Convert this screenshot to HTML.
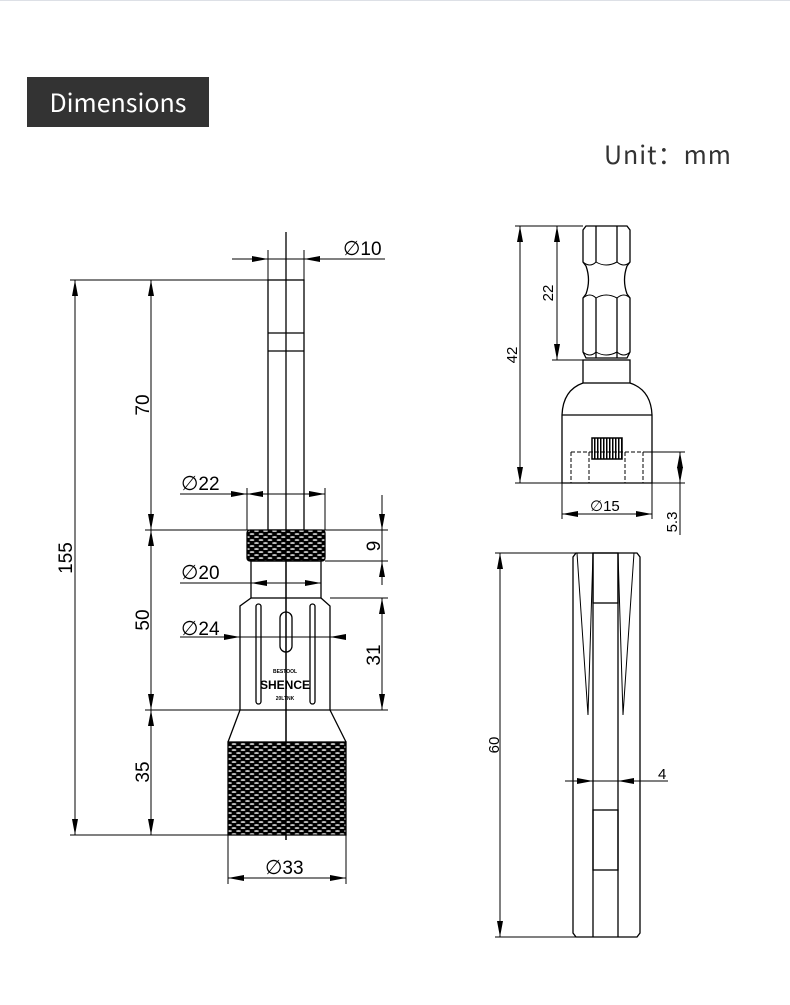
<!DOCTYPE html>
<html><head><meta charset="utf-8"><style>
html,body{margin:0;padding:0;background:#fff;}
body{width:790px;height:1005px;position:relative;overflow:hidden;font-family:"Liberation Sans","Noto Sans CJK SC",sans-serif;}
.hdr{position:absolute;left:27px;top:77px;width:182px;height:50px;background:#333;color:#fff;font-size:25px;line-height:50px;text-align:center;font-family:"Noto Sans CJK SC","Liberation Sans",sans-serif;}
.unit{position:absolute;left:604px;top:136px;font-size:25px;color:#333;font-family:"Noto Sans CJK SC","Liberation Sans",sans-serif;letter-spacing:1px;}
.top{position:absolute;left:0;top:0;width:790px;height:1px;background:#dde0e6;}
svg{position:absolute;left:0;top:0;}
</style></head><body>
<div class="top"></div>
<div class="hdr">Dimensions</div>
<div class="unit">Unit：mm</div>
<svg width="790" height="1005" viewBox="0 0 790 1005">
<defs>
<pattern id="kn" width="9" height="6" patternUnits="userSpaceOnUse">
<rect width="9" height="6" fill="#000"/>
<ellipse cx="4.5" cy="3" rx="2.4" ry="0.8" fill="#fff"/>
<ellipse cx="0" cy="0" rx="2.4" ry="0.8" fill="#fff"/>
<ellipse cx="9" cy="0" rx="2.4" ry="0.8" fill="#fff"/>
<ellipse cx="0" cy="6" rx="2.4" ry="0.8" fill="#fff"/>
<ellipse cx="9" cy="6" rx="2.4" ry="0.8" fill="#fff"/>
</pattern>
<pattern id="st" width="3" height="3" patternUnits="userSpaceOnUse">
<rect width="3" height="3" fill="#fff"/><rect width="1.5" height="3" fill="#000"/>
</pattern>
<marker id="a" viewBox="0 0 16 6" refX="16" refY="3" markerWidth="16" markerHeight="6" markerUnits="userSpaceOnUse" orient="auto-start-reverse"><path d="M0,0L16,3L0,6z" fill="#000"/></marker>
</defs>
<g stroke="#000" stroke-width="1.3" fill="none">
<line x1="286" y1="232" x2="286" y2="840"/>
<rect x="268" y="280" width="36" height="250"/>
<line x1="268" y1="333" x2="304" y2="333"/><line x1="268" y1="351" x2="304" y2="351"/>
<rect x="247" y="530" width="78" height="31" rx="3" fill="url(#kn)"/>
<rect x="251" y="561" width="70" height="37"/>
<path d="M251,598 L240,606 L240,710 L330,710 L330,606 L321,598"/>
<rect x="256" y="604" width="5" height="100" rx="2.5"/>
<rect x="310" y="604" width="5" height="100" rx="2.5"/>
<rect x="280" y="612" width="12" height="40" rx="6"/>
<path d="M240,710 L228,742 M330,710 L346,742"/>
<rect x="228" y="742" width="118" height="93" fill="url(#kn)"/>
<line x1="286" y1="530" x2="286" y2="840"/>
<g stroke-width="1">
<line x1="70" y1="280" x2="304" y2="280"/>
<line x1="145" y1="530" x2="388" y2="530"/>
<line x1="145" y1="710" x2="388" y2="710"/>
<line x1="70" y1="835" x2="228" y2="835"/>
<line x1="325" y1="561" x2="388" y2="561"/>
<line x1="330" y1="598" x2="388" y2="598"/>
<line x1="268" y1="250" x2="268" y2="280"/><line x1="304" y1="250" x2="304" y2="280"/>
<line x1="247" y1="488" x2="247" y2="530"/><line x1="325" y1="488" x2="325" y2="530"/>
<line x1="228" y1="835" x2="228" y2="884"/><line x1="346" y1="835" x2="346" y2="884"/>
<line x1="75" y1="280" x2="75" y2="835" marker-start="url(#a)" marker-end="url(#a)"/>
<line x1="151" y1="280" x2="151" y2="530" marker-start="url(#a)" marker-end="url(#a)"/>
<line x1="151" y1="530" x2="151" y2="710" marker-start="url(#a)" marker-end="url(#a)"/>
<line x1="151" y1="710" x2="151" y2="835" marker-start="url(#a)" marker-end="url(#a)"/>
<line x1="382" y1="495" x2="382" y2="530" marker-end="url(#a)"/>
<line x1="382" y1="530" x2="382" y2="561" />
<line x1="382" y1="561" x2="382" y2="585" marker-start="url(#a)"/>
<line x1="382" y1="598" x2="382" y2="710" marker-start="url(#a)" marker-end="url(#a)"/>
<line x1="232" y1="259" x2="268" y2="259" marker-end="url(#a)"/>
<line x1="268" y1="259" x2="304" y2="259"/>
<line x1="304" y1="259" x2="385" y2="259" marker-start="url(#a)"/>
<line x1="180" y1="494" x2="247" y2="494" marker-end="url(#a)"/>
<line x1="247" y1="494" x2="325" y2="494" marker-start="url(#a)" marker-end="url(#a)"/>
<line x1="180" y1="583" x2="321" y2="583"/>
<line x1="251" y1="583" x2="321" y2="583" marker-start="url(#a)" marker-end="url(#a)"/>
<line x1="180" y1="637" x2="240" y2="637" marker-end="url(#a)"/>
<line x1="240" y1="637" x2="330" y2="637"/>
<line x1="330" y1="637" x2="345" y2="637" marker-start="url(#a)"/>
<line x1="228" y1="878" x2="346" y2="878" marker-start="url(#a)" marker-end="url(#a)"/>
</g>
<!-- top right -->
<path d="M586,226 L627,226 L630,230 L630,262 L627,266 Q622,280 627,294 L630,298 L630,352 L627,358 L586,358 L583,352 L583,298 L586,294 Q591,280 586,266 L583,262 L583,230 Z"/>
<line x1="596" y1="226" x2="596" y2="262"/><line x1="617" y1="226" x2="617" y2="262"/>
<line x1="596" y1="298" x2="596" y2="358"/><line x1="617" y1="298" x2="617" y2="358"/>
<path d="M583,262 Q590,268 596,262 Q606,268 617,262 Q624,268 630,262 M583,298 Q590,292 596,298 Q606,292 617,298 Q624,292 630,298 M583,352 Q590,358 596,352 Q606,358 617,352 Q624,358 630,352" stroke-width="1"/>
<rect x="583" y="360" width="47" height="23"/>
<path d="M583,383 Q563,390 562,415 L562,483 L652,483 L652,415 Q651,390 630,383"/>
<line x1="562" y1="415" x2="652" y2="415"/>
<rect x="592" y="438" width="30" height="21" fill="url(#st)" stroke-width="1.5"/>
<path d="M571,452 L643,452 L643,483 M571,452 L571,483 M589,452 L589,483 M625,452 L625,483" stroke-dasharray="4,2" stroke-width="1"/>
<g stroke-width="1">
<line x1="515" y1="226" x2="583" y2="226"/>
<line x1="552" y1="360" x2="583" y2="360"/>
<line x1="515" y1="483" x2="685" y2="483"/>
<line x1="643" y1="452" x2="685" y2="452"/>
<line x1="562" y1="483" x2="562" y2="519"/><line x1="652" y1="483" x2="652" y2="519"/>
<line x1="520" y1="226" x2="520" y2="483" marker-start="url(#a)" marker-end="url(#a)"/>
<line x1="557" y1="226" x2="557" y2="360" marker-start="url(#a)" marker-end="url(#a)"/>
<line x1="562" y1="514" x2="652" y2="514" marker-start="url(#a)" marker-end="url(#a)"/>
<line x1="680" y1="452" x2="680" y2="483" marker-start="url(#a)" marker-end="url(#a)"/>
<line x1="680" y1="483" x2="680" y2="535"/>
</g>
<!-- bottom right -->
<path d="M576,553 L637,553 L640,557 L640,933 L637,937 L576,937 L573,933 L573,557 Z"/>
<line x1="593" y1="553" x2="593" y2="937"/><line x1="618" y1="553" x2="618" y2="937"/>
<rect x="593" y="553" width="25" height="50"/>
<rect x="593" y="810" width="25" height="60"/>
<path d="M577,553 L588,715 L593,553 M634,553 L623,715 L618,553" stroke-width="1"/>
<g stroke-width="1">
<line x1="495" y1="553" x2="576" y2="553"/>
<line x1="495" y1="937" x2="576" y2="937"/>
<line x1="500" y1="553" x2="500" y2="937" marker-start="url(#a)" marker-end="url(#a)"/>
<line x1="565" y1="781" x2="593" y2="781" marker-end="url(#a)"/>
<line x1="593" y1="781" x2="618" y2="781"/>
<line x1="618" y1="781" x2="668" y2="781" marker-start="url(#a)"/>
</g>
</g>
<g fill="#000" font-family="Liberation Sans, sans-serif" font-size="19">
<text x="343" y="255"><tspan font-family="DejaVu Sans" font-size="20">∅</tspan>10</text>
<text x="181" y="490"><tspan font-family="DejaVu Sans" font-size="20">∅</tspan>22</text>
<text x="181" y="579"><tspan font-family="DejaVu Sans" font-size="20">∅</tspan>20</text>
<text x="181" y="635"><tspan font-family="DejaVu Sans" font-size="20">∅</tspan>24</text>
<text x="265" y="874"><tspan font-family="DejaVu Sans" font-size="20">∅</tspan>33</text>
<text x="590" y="511" font-size="15"><tspan font-family="DejaVu Sans" font-size="15">∅</tspan>15</text>
<text x="658" y="779" font-size="15">4</text>
<text transform="translate(72,558) rotate(-90)" text-anchor="middle">155</text>
<text transform="translate(149,405) rotate(-90)" text-anchor="middle">70</text>
<text transform="translate(149,620) rotate(-90)" text-anchor="middle">50</text>
<text transform="translate(149,772) rotate(-90)" text-anchor="middle">35</text>
<text transform="translate(380,546) rotate(-90)" text-anchor="middle">9</text>
<text transform="translate(380,655) rotate(-90)" text-anchor="middle">31</text>
<text transform="translate(517,355) rotate(-90)" text-anchor="middle" font-size="15">42</text>
<text transform="translate(553,293) rotate(-90)" text-anchor="middle" font-size="15">22</text>
<text transform="translate(677,522) rotate(-90)" text-anchor="middle" font-size="15">5.3</text>
<text transform="translate(499,745) rotate(-90)" text-anchor="middle" font-size="15">60</text>
<text x="285" y="689" font-size="12" font-weight="bold" text-anchor="middle">SHENCE</text>
<text x="285" y="673" font-size="5" font-weight="bold" text-anchor="middle">BESTOOL</text>
<text x="285" y="700" font-size="5" font-weight="bold" text-anchor="middle">20LTNK</text>
</g>
</svg>
</body></html>
